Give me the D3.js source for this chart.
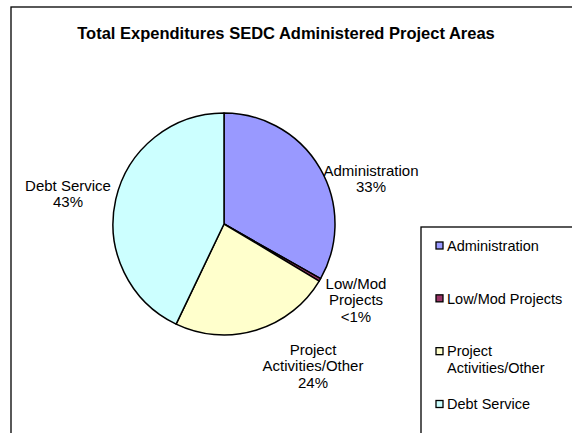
<!DOCTYPE html>
<html>
<head>
<meta charset="utf-8">
<script src="https://cdn.jsdelivr.net/npm/d3@7"></script>
<style>
  html, body { margin: 0; padding: 0; background: #fff; }
  svg { display: block; font-family: "Liberation Sans", Arial, sans-serif; }
</style>
</head>
<body>
<svg id="chart" width="572" height="433"></svg>
<script>
// Expenditure shares (percent of total)
const categories = ["Administration", "Low/Mod Projects", "Project Activities/Other", "Debt Service"];
const values = [33.2, 0.4, 23.5, 42.9];
const percentLabels = ["33%", "<1%", "24%", "43%"];
const sliceLabelLines = [["Administration"], ["Low/Mod", "Projects"], ["Project", "Activities/Other"], ["Debt Service"]];
const legendLines = [["Administration"], ["Low/Mod Projects"], ["Project", "Activities/Other"], ["Debt Service"]];
const colors = ["#9999FF", "#993366", "#FFFFCC", "#CCFFFF"];

const svg = d3.select("#chart");

// Outer chart frame (runs past the right and bottom edges)
svg.append("rect")
  .attr("x", 11).attr("y", 7).attr("width", 600).attr("height", 460)
  .attr("fill", "#fff").attr("stroke", "#000").attr("stroke-width", 1.3);

svg.append("text")
  .attr("x", 286).attr("y", 39)
  .attr("text-anchor", "middle")
  .attr("font-size", 16.5).attr("font-weight", "bold")
  .text("Total Expenditures SEDC Administered Project Areas");

const cx = 224, cy = 224, r = 111;
const data = categories.map((c, i) => ({ name: c, value: values[i], i }));

const pie = d3.pie().sort(null).value(d => d.value);
const arc = d3.arc().innerRadius(0).outerRadius(r);
const arcs = pie(data);

const g = svg.append("g").attr("transform", `translate(${cx},${cy})`);
g.selectAll("path")
  .data(arcs)
  .join("path")
  .attr("d", arc)
  .attr("fill", d => colors[d.data.i])
  .attr("stroke", "#000")
  .attr("stroke-width", 1.5)
  .attr("stroke-linejoin", "round");

// Label block centres, relative to the pie centre
const labelAnchor = [[147, -45.5], [132, 76], [89, 142], [-156, -30.5]];
const labelFont = 15, lh = 16.5;
arcs.forEach((a, k) => {
  const [x, y] = labelAnchor[k];
  const lines = sliceLabelLines[k].concat([percentLabels[k]]);
  const t = g.append("text")
    .attr("text-anchor", "middle")
    .attr("font-size", labelFont)
    .attr("fill", "#000");
  lines.forEach((ln, j) => {
    t.append("tspan")
      .attr("x", x)
      .attr("y", y - (lines.length - 1) * lh / 2 + j * lh + labelFont * 0.36)
      .text(ln);
  });
});

// Legend
const legend = svg.append("g");
legend.append("rect")
  .attr("x", 421).attr("y", 227).attr("width", 200).attr("height", 240)
  .attr("fill", "#fff").attr("stroke", "#000").attr("stroke-width", 1.3);

const legendFont = 14.5;
const legendY = d3.scalePoint().domain(categories).range([245.5, 404]);
categories.forEach((c, i) => {
  const y = legendY(c);
  legend.append("rect")
    .attr("x", 436).attr("y", y - 3.5).attr("width", 7).attr("height", 7)
    .attr("fill", colors[i]).attr("stroke", "#000").attr("stroke-width", 1.3);
  const t = legend.append("text").attr("font-size", legendFont).attr("fill", "#000");
  legendLines[i].forEach((ln, j) => {
    t.append("tspan").attr("x", 447).attr("y", y + 5.2 + j * 16.5).text(ln);
  });
});
</script>
</body>
</html>
